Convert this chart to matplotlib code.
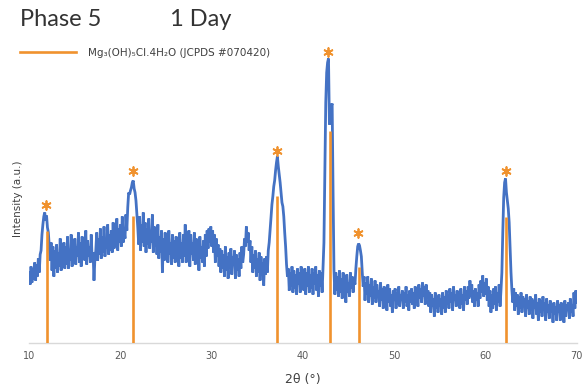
import numpy as np
import matplotlib.pyplot as plt
from matplotlib.lines import Line2D

# XRD intensity (a.u.), 0.1 deg steps
int_10_20 = [70, 58, 76, 60, 74, 63, 80, 62, 78, 66,
             84, 70, 88, 92, 108, 118, 126, 130, 122, 127,
             115, 110, 96, 82, 100, 72, 96, 66, 92, 74,
             98, 70, 90, 76, 104, 72, 94, 80, 100, 74,
             96, 78, 106, 74, 92, 82, 108, 76, 98, 84,
             104, 78, 96, 86, 110, 80, 100, 76, 106, 84,
             98, 82, 112, 78, 102, 86, 96, 80, 108, 82,
             90, 62, 84, 92, 110, 82, 104, 88, 114, 84,
             106, 90, 116, 86, 100, 94, 118, 88, 108, 92,
             112, 90, 120, 94, 106, 96, 124, 92, 114, 100]
int_20_30 = [118, 96, 126, 100, 112, 104, 128, 112, 135, 150,
             148, 152, 155, 160, 162, 154, 150, 142, 128, 115,
             98, 126, 92, 118, 100, 130, 96, 120, 90, 114,
             98, 124, 94, 110, 100, 128, 90, 116, 96, 112,
             88, 118, 84, 106, 90, 112, 70, 104, 82, 110,
             86, 104, 80, 112, 88, 100, 78, 108, 84, 102,
             80, 106, 88, 98, 76, 110, 84, 100, 80, 108,
             86, 118, 80, 104, 90, 112, 76, 108, 88, 100,
             82, 110, 78, 104, 88, 98, 72, 106, 84, 96,
             80, 102, 76, 108, 86, 112, 94, 114, 100, 116]
int_30_40 = [96, 112, 90, 108, 80, 104, 86, 98, 76, 94,
             70, 92, 74, 88, 66, 96, 72, 86, 64, 90,
             74, 94, 68, 86, 78, 92, 64, 88, 72, 84,
             66, 90, 74, 96, 80, 88, 104, 96, 116, 100,
             110, 92, 102, 80, 96, 70, 88, 74, 92, 66,
             84, 70, 90, 62, 86, 72, 80, 57, 84, 68,
             86, 70, 92, 100, 112, 125, 138, 146, 156, 162,
             172, 180, 186, 176, 168, 160, 150, 140, 136, 126,
             110, 96, 78, 66, 74, 52, 70, 56, 76, 50,
             72, 54, 68, 48, 74, 58, 70, 50, 76, 56]
int_40_50 = [66, 52, 74, 48, 70, 56, 76, 50, 68, 54,
             74, 48, 70, 58, 76, 52, 68, 46, 72, 56,
             70, 50, 75, 100, 170, 240, 270, 280, 284, 218,
             225, 236, 239, 150, 72, 48, 70, 52, 66, 46,
             72, 50, 64, 44, 70, 54, 62, 40, 68, 50,
             60, 46, 70, 54, 66, 50, 64, 58, 74, 86,
             96, 99, 97, 92, 86, 70, 56, 66, 42, 60,
             48, 66, 40, 58, 46, 64, 38, 56, 44, 62,
             40, 58, 46, 52, 36, 60, 42, 54, 34, 56,
             44, 50, 32, 58, 40, 54, 36, 48, 30, 52]
int_50_60 = [42, 54, 34, 50, 38, 56, 36, 48, 42, 52,
             34, 50, 40, 56, 36, 48, 32, 52, 40, 54,
             38, 50, 34, 56, 42, 52, 36, 58, 44, 54,
             40, 60, 46, 56, 38, 58, 44, 52, 36, 50,
             30, 48, 36, 44, 26, 50, 34, 46, 30, 48,
             36, 44, 28, 50, 34, 46, 30, 52, 38, 48,
             34, 54, 40, 50, 32, 56, 42, 48, 36, 52,
             40, 50, 34, 54, 38, 48, 32, 56, 42, 52,
             38, 56, 44, 62, 46, 58, 40, 52, 36, 54,
             42, 50, 36, 58, 44, 62, 50, 67, 46, 60]
int_60_70 = [48, 64, 42, 56, 36, 52, 30, 48, 34, 54,
             38, 56, 32, 50, 40, 58, 36, 52, 70, 110,
             145, 160, 164, 150, 142, 134, 120, 96, 70, 52,
             40, 54, 32, 50, 36, 48, 28, 46, 34, 50,
             30, 46, 36, 44, 26, 48, 34, 42, 28, 46,
             32, 44, 24, 42, 34, 48, 28, 40, 22, 44,
             30, 42, 26, 46, 32, 40, 22, 44, 30, 38,
             24, 42, 30, 38, 20, 40, 28, 36, 22, 42,
             30, 38, 22, 40, 28, 36, 20, 42, 26, 38,
             32, 40, 24, 44, 30, 38, 26, 50, 34, 52, 40]

# reference pattern Mg3(OH)5Cl.4H2O
ref_two_theta = [11.94, 21.41, 37.19, 42.96, 46.14, 62.25]
ref_height = [112, 127, 147, 212, 76, 126]

# asterisk labels on the observed peaks
star_two_theta = [11.8, 21.34, 37.19, 42.78, 46.0, 62.2]
star_height = [138, 172, 192, 291, 110, 172]

blocks = [(10, int_10_20), (20, int_20_30), (30, int_30_40),
          (40, int_40_50), (50, int_50_60), (60, int_60_70)]
two_theta = []
intensity = []
for start, vals in blocks:
    n = len(vals)
    if start == 60:
        xs = np.linspace(start, 70, n)
    else:
        xs = start + 0.1 * np.arange(n)
    two_theta.extend(xs)
    intensity.extend(vals)

blue = '#4472C4'
orange = '#F0922E'

fig = plt.figure(figsize=(5.84, 3.89), dpi=100)
ax = fig.add_axes([0.05, 0.1195, 0.9375, 0.7712])

ax.plot(two_theta, intensity, color=blue, lw=2.0, solid_joinstyle='miter')
ax.vlines(ref_two_theta, 0, ref_height, color=orange, lw=1.9, zorder=3)
ax.scatter(star_two_theta, star_height, marker=(6, 2, 0), s=40,
           color=orange, linewidths=1.3, zorder=4)

ax.set_xlim(10, 70)
ax.set_ylim(0, 300)
ax.set_xticks(range(10, 71, 10))
ax.tick_params(axis='x', length=0, labelsize=7, labelcolor='#595959', pad=6)
ax.set_yticks([])
for s in ['top', 'right', 'left']:
    ax.spines[s].set_visible(False)
ax.spines['bottom'].set_color('#d9d9d9')
ax.spines['bottom'].set_linewidth(1.0)

ax.set_xlabel('2θ (°)', fontsize=9, color='#404040', labelpad=9)
fig.text(0.031, 0.49, 'Intensity (a.u.)', rotation=90, fontsize=7.5,
         color='#404040', ha='center', va='center')

title_font = dict(family=['Lato', 'DejaVu Sans'], fontsize=17,
                  color='#333333', va='center', ha='left')
fig.text(0.035, 1 - 19 / 389, 'Phase 5', **title_font)
fig.text(0.291, 1 - 19 / 389, '1 Day', **title_font)

handle = Line2D([], [], color=orange, lw=1.9)
fig.legend(handles=[handle], labels=['Mg₃(OH)₅Cl.4H₂O (JCPDS #070420)'],
           loc='center left', bbox_to_anchor=(0.035, 1 - 53 / 389),
           frameon=False, fontsize=7.5, handlelength=5.3, handletextpad=1.2,
           borderpad=0, borderaxespad=0, labelcolor='#404040')

fig.savefig('out.png', dpi=100)
